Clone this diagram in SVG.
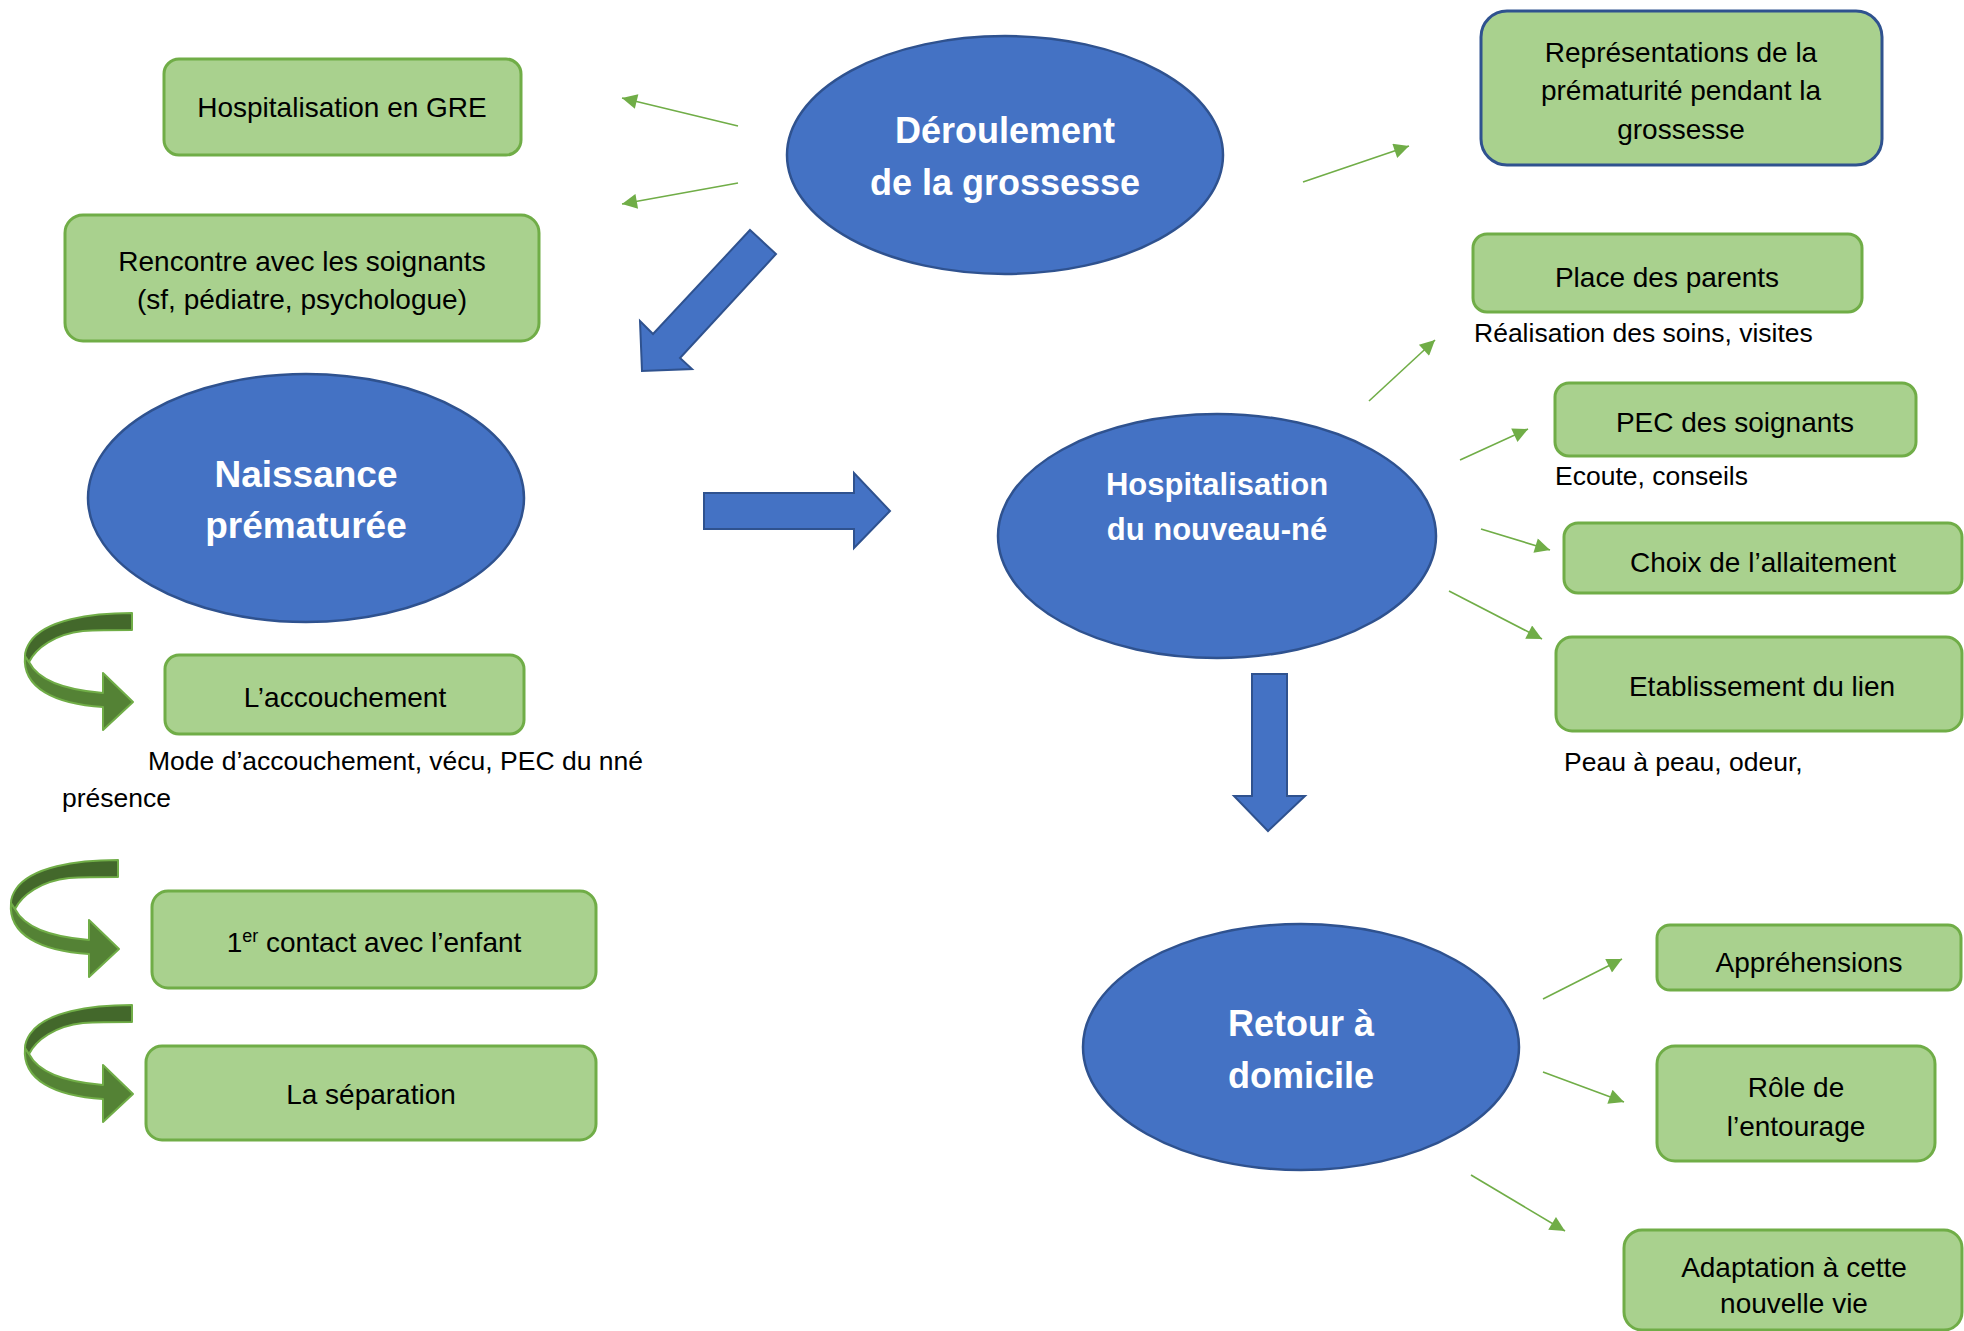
<svg xmlns="http://www.w3.org/2000/svg" xmlns:xlink="http://www.w3.org/1999/xlink" width="1964" height="1331" viewBox="0 0 1964 1331">
<style>
  .oval { fill: #4472C4; stroke: #2F528F; stroke-width: 2.5; }
  .oval-t { font-family: "Liberation Sans", Arial, sans-serif; font-weight: bold; fill: #FFFFFF; text-anchor: middle; }
  .box { fill: #A9D18E; stroke: #70AD47; stroke-width: 3; }
  .box-blue { fill: #A9D18E; stroke: #2F528F; stroke-width: 3; }
  .t { font-family: "Liberation Sans", Arial, sans-serif; font-size: 28px; fill: #000000; }
  .a { font-family: "Liberation Sans", Arial, sans-serif; font-size: 26.5px; fill: #000000; }
  .c { text-anchor: middle; }
  .link { stroke: #70AD47; stroke-width: 1.6; fill: none; marker-end: url(#head); }
  .block { fill: #4472C4; stroke: #2F528F; stroke-width: 2; stroke-linejoin: miter; }
  .cdark { fill: #43682B; stroke: #70AD47; stroke-width: 2; stroke-linejoin: round; }
  .clight { fill: #548235; stroke: #70AD47; stroke-width: 2; stroke-linejoin: round; }
</style>
<defs>
  <marker id="head" viewBox="0 0 10 10" refX="10" refY="5" markerUnits="userSpaceOnUse" markerWidth="19" markerHeight="15" orient="auto">
    <path d="M0,0 L10,5 L0,10 z" fill="#70AD47"/>
  </marker>
  <g id="curved">
    <path class="clight" d="M25,656 C22,688 55,704 103,707 L103,730 L133,702 L103,673 L103,693 C65,690 38,680 29,662 Z"/>
    <path class="cdark" d="M132,613 C90,613 45,620 30,642 C26,648 25,652 25,656 L29,662 C36,648 55,634 83,631 C100,630 115,630 132,630 Z"/>
  </g>
</defs>

<rect width="1964" height="1331" fill="#FFFFFF"/>

<g id="connectors">
  <line class="link" x1="738" y1="126" x2="622" y2="98"/>
  <line class="link" x1="738" y1="183" x2="622" y2="204"/>
  <line class="link" x1="1303" y1="182" x2="1409" y2="146"/>
  <line class="link" x1="1369" y1="401" x2="1435" y2="340"/>
  <line class="link" x1="1460" y1="460" x2="1528" y2="429"/>
  <line class="link" x1="1481" y1="529" x2="1550" y2="550"/>
  <line class="link" x1="1449" y1="591" x2="1542" y2="639"/>
  <line class="link" x1="1543" y1="999" x2="1622" y2="959"/>
  <line class="link" x1="1543" y1="1072" x2="1624" y2="1102"/>
  <line class="link" x1="1471" y1="1175" x2="1565" y2="1231"/>
  <polygon class="block" points="750,230 776,254 680,358 692,369 642,371 640,321 653,334"/>
  <polygon class="block" points="704,493 854,493 854,473 890,511 854,548 854,529 704,529"/>
  <polygon class="block" points="1252,674 1287,674 1287,796 1305,796 1268,831 1234,796 1252,796"/>
  <use xlink:href="#curved"/>
  <use xlink:href="#curved" transform="translate(-14,247)"/>
  <use xlink:href="#curved" transform="translate(0,392)"/>
</g>

<g id="node-deroulement">
  <ellipse class="oval" cx="1005" cy="155" rx="218" ry="119"/>
  <text class="oval-t" x="1005" y="143" font-size="36">Déroulement</text>
  <text class="oval-t" x="1005" y="195" font-size="36">de la grossesse</text>
</g>

<g id="node-naissance">
  <ellipse class="oval" cx="306" cy="498" rx="218" ry="124"/>
  <text class="oval-t" x="306" y="487" font-size="37">Naissance</text>
  <text class="oval-t" x="306" y="538" font-size="37">prématurée</text>
</g>

<g id="node-hospitalisation-nn">
  <ellipse class="oval" cx="1217" cy="536" rx="219" ry="122"/>
  <text class="oval-t" x="1217" y="495" font-size="31">Hospitalisation</text>
  <text class="oval-t" x="1217" y="540" font-size="31">du nouveau-né</text>
</g>

<g id="node-retour">
  <ellipse class="oval" cx="1301" cy="1047" rx="218" ry="123"/>
  <text class="oval-t" x="1301" y="1036" font-size="36">Retour à</text>
  <text class="oval-t" x="1301" y="1088" font-size="36">domicile</text>
</g>

<g id="node-gre">
  <rect class="box" x="164" y="59" width="357" height="96" rx="15"/>
  <text class="t c" x="342" y="117">Hospitalisation en GRE</text>
</g>

<g id="node-rencontre">
  <rect class="box" x="65" y="215" width="474" height="126" rx="18"/>
  <text class="t c" x="302" y="271">Rencontre avec les soignants</text>
  <text class="t c" x="302" y="309">(sf, pédiatre, psychologue)</text>
</g>

<g id="node-representations">
  <rect class="box-blue" x="1481" y="11" width="401" height="154" rx="26"/>
  <text class="t c" x="1681" y="62">Représentations de la</text>
  <text class="t c" x="1681" y="100">prématurité pendant la</text>
  <text class="t c" x="1681" y="139">grossesse</text>
</g>

<g id="node-place-parents">
  <rect class="box" x="1473" y="234" width="389" height="78" rx="14"/>
  <text class="t c" x="1667" y="287">Place des parents</text>
  <text class="a" x="1474" y="342">Réalisation des soins, visites</text>
</g>

<g id="node-pec">
  <rect class="box" x="1555" y="383" width="361" height="73" rx="14"/>
  <text class="t c" x="1735" y="432">PEC des soignants</text>
  <text class="a" x="1555" y="485">Ecoute, conseils</text>
</g>

<g id="node-allaitement">
  <rect class="box" x="1564" y="523" width="398" height="70" rx="14"/>
  <text class="t c" x="1763" y="572">Choix de l’allaitement</text>
</g>

<g id="node-lien">
  <rect class="box" x="1556" y="637" width="406" height="94" rx="16"/>
  <text class="t c" x="1762" y="696">Etablissement du lien</text>
  <text class="a" x="1564" y="771">Peau à peau, odeur,</text>
</g>

<g id="node-apprehensions">
  <rect class="box" x="1657" y="925" width="304" height="65" rx="13"/>
  <text class="t c" x="1809" y="972">Appréhensions</text>
</g>

<g id="node-entourage">
  <rect class="box" x="1657" y="1046" width="278" height="115" rx="18"/>
  <text class="t c" x="1796" y="1097">Rôle de</text>
  <text class="t c" x="1796" y="1136">l’entourage</text>
</g>

<g id="node-adaptation">
  <rect class="box" x="1624" y="1230" width="338" height="100" rx="18"/>
  <text class="t c" x="1794" y="1277">Adaptation à cette</text>
  <text class="t c" x="1794" y="1313">nouvelle vie</text>
</g>

<g id="node-accouchement">
  <rect class="box" x="165" y="655" width="359" height="79" rx="14"/>
  <text class="t c" x="345" y="707">L’accouchement</text>
  <text class="a" x="148" y="770">Mode d’accouchement, vécu, PEC du nné</text>
  <text class="a" x="62" y="807">présence</text>
</g>

<g id="node-contact">
  <rect class="box" x="152" y="891" width="444" height="97" rx="16"/>
  <text class="t c" x="374" y="952">1<tspan font-size="18" dy="-10">er</tspan><tspan dy="10"> contact avec l’enfant</tspan></text>
</g>

<g id="node-separation">
  <rect class="box" x="146" y="1046" width="450" height="94" rx="16"/>
  <text class="t c" x="371" y="1104">La séparation</text>
</g>
</svg>
